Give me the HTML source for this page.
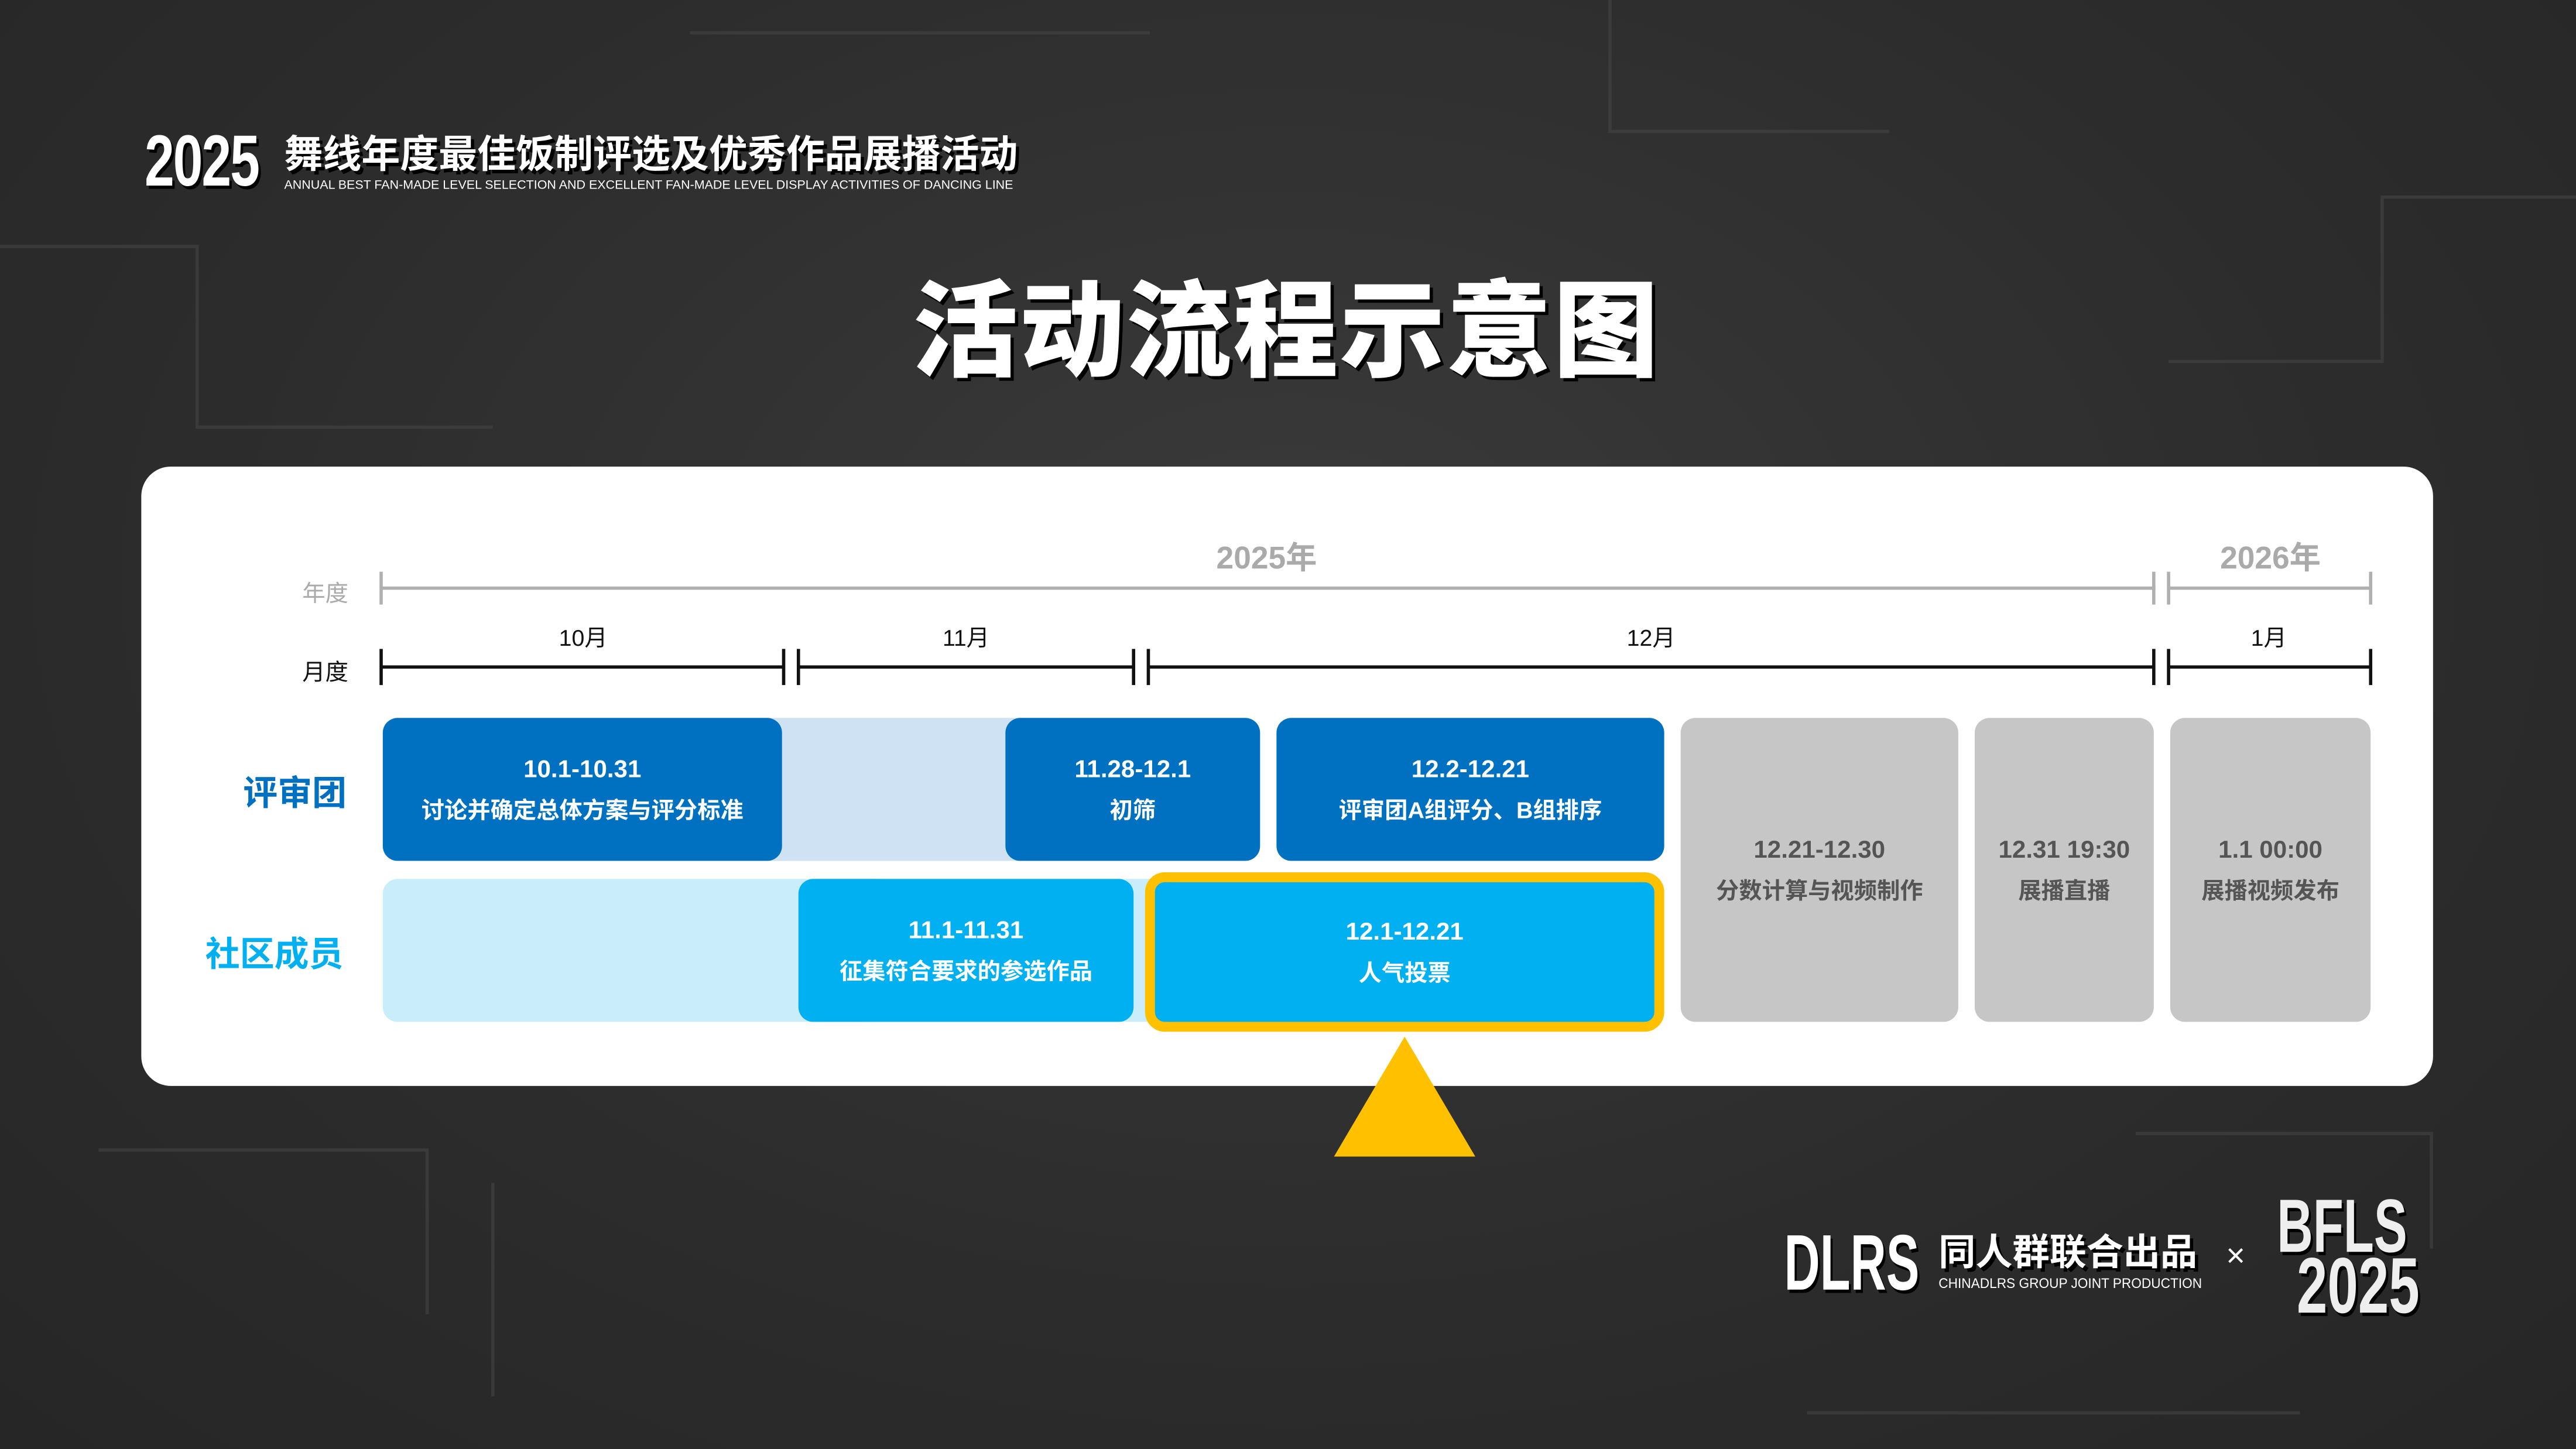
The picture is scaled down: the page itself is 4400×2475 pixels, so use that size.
<!DOCTYPE html>
<html><head><meta charset="utf-8"><style>
html,body{margin:0;padding:0;}
body{width:4400px;height:2475px;overflow:hidden;background:#2d2d2d;}
#s{position:absolute;left:0;top:0;width:1568px;height:882px;transform:scale(2.80612);transform-origin:0 0;
background:radial-gradient(ellipse at 50% 40%,#3a3a3a 0%,#2c2c2c 60%,#262626 100%);
font-family:"Liberation Sans","Noto Sans CJK SC",sans-serif;}
.a{position:absolute;white-space:nowrap;}
.c{text-align:center;transform:translateX(-50%);}
.n{transform-origin:0 0;}
.box{position:absolute;border-radius:9px;color:#fff;display:flex;flex-direction:column;align-items:center;justify-content:center;font-size:14px;font-weight:bold;line-height:25px;}
.box b{font-size:15px;}
.g{background:#c6c6c6;color:#555;}
.hl{position:absolute;height:2px;background:#111;}
.tk{position:absolute;width:2px;height:22px;background:#111;}
.gl{position:absolute;height:2px;background:#b0b0b0;}
.gt{position:absolute;width:2px;height:20px;background:#b0b0b0;}
.sh{text-shadow:2px 2px 0 #000;}
</style></head><body><div id="s">
<svg class="a" style="left:0;top:0" width="1568" height="882">
<g stroke="#444" stroke-width="2" fill="none" opacity="0.6">
<path d="M0 150 H120 V260 H300"/><path d="M1568 120 H1450 V220 H1320"/><path d="M60 700 H260 V800"/><path d="M1300 690 H1480 V760"/>
<path d="M300 720 V850"/><path d="M980 0 V80 H1150"/><path d="M420 20 H700"/><path d="M1100 860 H1400"/>
</g></svg>
<div class="a sh n" style="left:88px;top:74px;font-size:44px;font-weight:bold;color:#fff;transform:scaleX(0.74);letter-spacing:-1px;">2025</div>
<div class="a sh" style="left:173px;top:75px;font-size:23.5px;font-weight:bold;color:#fff;">舞线年度最佳饭制评选及优秀作品展播活动</div>
<div class="a n" style="left:173px;top:108px;font-size:7.5px;color:#fff;transform:scaleX(1.02);">ANNUAL BEST FAN-MADE LEVEL SELECTION AND EXCELLENT FAN-MADE LEVEL DISPLAY ACTIVITIES OF DANCING LINE</div>
<div class="a c sh" style="left:783px;top:151px;font-size:64px;font-weight:900;color:#fff;letter-spacing:1px;">活动流程示意图</div>

<div class="a" style="left:86px;top:284px;width:1395px;height:377px;background:#fff;border-radius:18px;"></div>
<div class="a" style="left:184px;top:351px;font-size:14px;color:#aaa;">年度</div>
<div class="a" style="left:184px;top:399px;font-size:14px;color:#111;">月度</div>
<div class="a c" style="left:771px;top:325px;font-size:19px;font-weight:bold;color:#aaa;">2025年</div>
<div class="a c" style="left:1382px;top:325px;font-size:19px;font-weight:bold;color:#aaa;">2026年</div>
<div class="gl" style="left:232px;top:357px;width:1080px"></div>
<div class="gt" style="left:231px;top:348px"></div><div class="gt" style="left:1310px;top:348px"></div>
<div class="gl" style="left:1320px;top:357px;width:123px"></div>
<div class="gt" style="left:1319px;top:348px"></div><div class="gt" style="left:1442px;top:348px"></div>

<div class="a c" style="left:355px;top:378px;font-size:14px;color:#111;">10月</div>
<div class="a c" style="left:588px;top:378px;font-size:14px;color:#111;">11月</div>
<div class="a c" style="left:1005px;top:378px;font-size:14px;color:#111;">12月</div>
<div class="a c" style="left:1381px;top:378px;font-size:14px;color:#111;">1月</div>
<div class="hl" style="left:232px;top:405px;width:245px"></div><div class="tk" style="left:231px;top:395px"></div><div class="tk" style="left:476px;top:395px"></div>
<div class="hl" style="left:486px;top:405px;width:204px"></div><div class="tk" style="left:485px;top:395px"></div><div class="tk" style="left:689px;top:395px"></div>
<div class="hl" style="left:699px;top:405px;width:612px"></div><div class="tk" style="left:698px;top:395px"></div><div class="tk" style="left:1310px;top:395px"></div>
<div class="hl" style="left:1320px;top:405px;width:123px"></div><div class="tk" style="left:1319px;top:395px"></div><div class="tk" style="left:1442px;top:395px"></div>

<div class="a" style="left:148px;top:467px;font-size:21px;font-weight:bold;color:#0070c0;">评审团</div>
<div class="a" style="left:125px;top:565px;font-size:21px;font-weight:bold;color:#00b0f0;">社区成员</div>

<div class="a" style="left:240px;top:437px;width:400px;height:87px;background:#cfe2f3;"></div>
<div class="box" style="left:233px;top:437px;width:243px;height:87px;background:#0070c0;"><b>10.1-10.31</b>讨论并确定总体方案与评分标准</div>
<div class="box" style="left:612px;top:437px;width:155px;height:87px;background:#0070c0;"><b>11.28-12.1</b>初筛</div>
<div class="box" style="left:777px;top:437px;width:236px;height:87px;background:#0070c0;"><b>12.2-12.21</b>评审团A组评分、B组排序</div>

<div class="a" style="left:233px;top:535px;width:300px;height:87px;background:#c9edfa;border-radius:9px 0 0 9px;"></div>
<div class="a" style="left:680px;top:535px;width:30px;height:87px;background:#c9edfa;"></div>
<div class="box" style="left:486px;top:535px;width:204px;height:87px;background:#00b0f0;"><b>11.1-11.31</b>征集符合要求的参选作品</div>
<div class="box" style="left:697px;top:531px;width:304px;height:85px;background:#00b0f0;border:6px solid #ffc000;border-radius:12px;"><b>12.1-12.21</b>人气投票</div>

<div class="box g" style="left:1023px;top:437px;width:169px;height:185px;"><b>12.21-12.30</b>分数计算与视频制作</div>
<div class="box g" style="left:1202px;top:437px;width:109px;height:185px;"><b>12.31 19:30</b>展播直播</div>
<div class="box g" style="left:1321px;top:437px;width:122px;height:185px;"><b>1.1 00:00</b>展播视频发布</div>

<svg class="a" style="left:810px;top:628px" width="92" height="80"><polygon points="45,3 88,76 2,76" fill="#ffc000"/></svg>

<div class="a sh n" style="left:1086px;top:742px;font-size:48px;font-weight:bold;color:#fff;transform:scaleX(0.63);">DLRS</div>
<div class="a sh" style="left:1180px;top:745px;font-size:22.5px;font-weight:bold;color:#fff;">同人群联合出品</div>
<div class="a n" style="left:1180px;top:776px;font-size:8.5px;color:#fff;transform:scaleX(0.95);">CHINADLRS GROUP JOINT PRODUCTION</div>
<div class="a" style="left:1355px;top:754px;font-size:20px;color:#fff;">×</div>
<div class="a sh n" style="left:1386px;top:726px;font-size:46px;font-weight:bold;color:#eee;line-height:40px;transform:scaleX(0.66);">BFLS</div>
<div class="a sh n" style="left:1398px;top:762px;font-size:48px;font-weight:bold;color:#eee;line-height:44px;transform:scaleX(0.7);">2025</div>
</div></body></html>
